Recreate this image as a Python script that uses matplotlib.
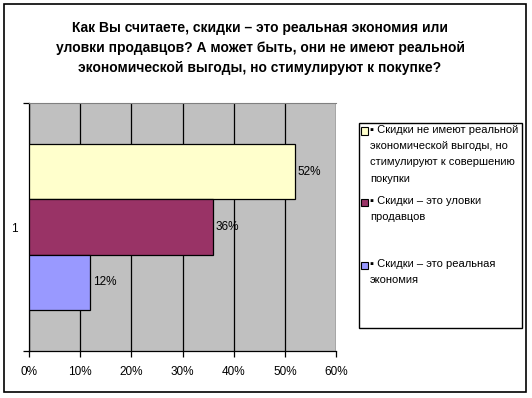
import numpy as np
import matplotlib.pyplot as plt
from matplotlib.patches import Rectangle

plt.rcParams['font.family'] = ['Liberation Sans', 'DejaVu Sans']

title = ('Как Вы считаете, скидки – это реальная экономия или\n'
         'уловки продавцов? А может быть, они не имеют реальной\n'
         'экономической выгоды, но стимулируют к покупке?')
labels = ['Скидки не имеют реальной\nэкономической выгоды, но\nстимулируют к совершению\nпокупки',
          'Скидки – это уловки\nпродавцов',
          'Скидки – это реальная\nэкономия']
values = [52, 36, 12]
colors = ['#FFFFCC', '#993366', '#9999FF']
xticks = [0, 10, 20, 30, 40, 50, 60]
category = '1'

W, H = 532, 398
fig = plt.figure(figsize=(W / 100, H / 100), dpi=100)


def fx(px):
    return px / W


def fy(py):
    return 1 - py / H


# outer border of the chart
fig.patches.append(Rectangle((fx(4), fy(392)), fx(522), (392 - 4) / H, transform=fig.transFigure,
                             fill=False, edgecolor='black', linewidth=1.2))

ax = fig.add_axes([fx(29), fy(351), fx(336 - 29), (351 - 103) / H])
ax.set_facecolor('#C0C0C0')

h = 0.222
n = len(values)
ypos = [((n - 1) / 2 - i) * h for i in range(n)]
bars = ax.barh(ypos, values, height=h, color=colors, edgecolor='black', linewidth=0.9, zorder=3)
ax.bar_label(bars, labels=[f'{v}%' for v in values], padding=2, fontsize=8.5)

ax.set_xlim(0, 60)
ax.set_ylim(-0.5, 0.5)
ax.set_xticks(xticks, [f'{t}%' for t in xticks], fontsize=8.5)
ax.xaxis.grid(True, color='black', linewidth=0.9, zorder=1)
ax.set_axisbelow(True)
ax.tick_params(axis='x', direction='out', length=4, width=0.9, pad=7)

ax.set_yticks([-0.5, 0.5], ['', ''])
ax.set_yticks([0], [category], minor=True)
ax.tick_params(axis='y', which='major', direction='out', length=4, width=0.9)
ax.tick_params(axis='y', which='minor', length=0, pad=8, labelsize=8.5)

for side in ['left', 'bottom']:
    ax.spines[side].set_color('black')
    ax.spines[side].set_linewidth(0.9)
ax.spines['top'].set_color('#808080')
ax.spines['right'].set_visible(False)

fig.text(fx(260), fy(48), title, ha='center', va='center', fontsize=10, fontweight='bold',
         linespacing=1.55)

# legend
fig.patches.append(Rectangle((fx(359), fy(328)), fx(522 - 359), (328 - 123) / H,
                             transform=fig.transFigure, fill=False, edgecolor='black', linewidth=1))
entry_y = [131, 202, 265]
for lab, col, y in zip(labels, colors, entry_y):
    fig.patches.append(Rectangle((fx(361), fy(y + 3.5)), fx(7), 7 / H, transform=fig.transFigure,
                                 facecolor=col, edgecolor='black', linewidth=0.8))
    lines = lab.split('\n')
    txt = '▪ ' + lines[0] + ''.join('\n' + ln for ln in lines[1:])
    fig.text(fx(370), fy(y - 6), txt, ha='left', va='top', fontsize=8, linespacing=1.78)

plt.savefig('out.png', dpi=100)
